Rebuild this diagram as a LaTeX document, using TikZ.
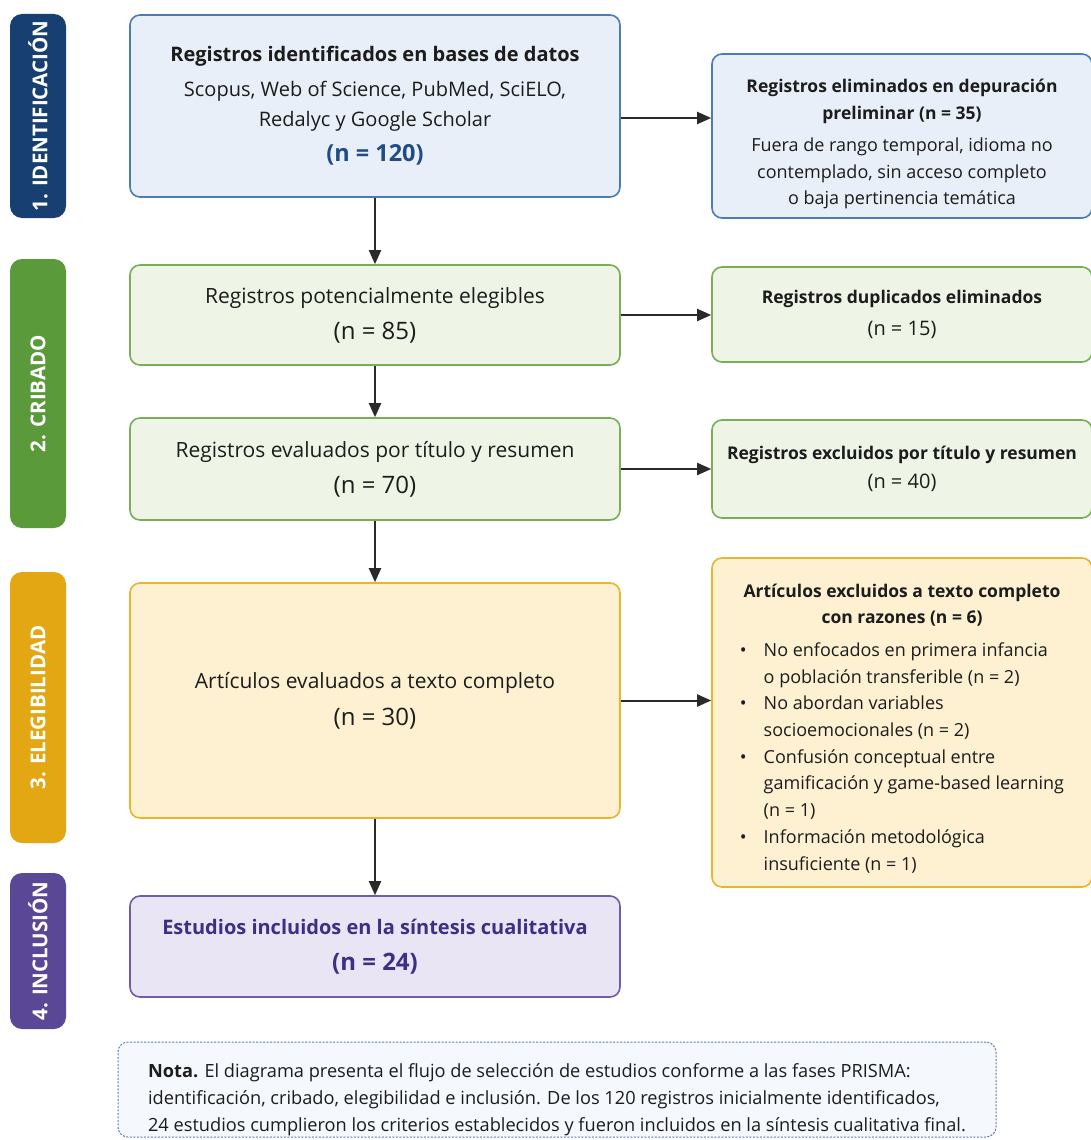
\documentclass[tikz,border=0pt]{standalone}
\usepackage{fontspec}
\setmainfont{Open Sans}
\usetikzlibrary{arrows.meta}
\definecolor{txt}{HTML}{1C1C1C}
\definecolor{arrowc}{HTML}{2A2A2A}
\definecolor{bluefill}{HTML}{E8EFF8}
\definecolor{blueline}{HTML}{4D7BB5}
\definecolor{tabblue}{HTML}{173F72}
\definecolor{nblue}{HTML}{1F4C88}
\definecolor{greenfill}{HTML}{EEF5E6}
\definecolor{greenline}{HTML}{78AE57}
\definecolor{tabgreen}{HTML}{5B9A3A}
\definecolor{goldfill}{HTML}{FDF1D2}
\definecolor{goldline}{HTML}{EAB42C}
\definecolor{tabgold}{HTML}{E2A712}
\definecolor{purplefill}{HTML}{E9E5F4}
\definecolor{purpleline}{HTML}{6E5EA8}
\definecolor{tabpurple}{HTML}{5A4897}
\definecolor{ptext}{HTML}{3E2F85}
\definecolor{notefill}{HTML}{F5F8FC}
\definecolor{noteline}{HTML}{5A7BB0}
\newcommand{\nline}[1]{{\fontsize{24}{36}\selectfont #1}}
\newcommand{\topstrut}[1]{\rule{0pt}{#1}}
\begin{document}
\begin{tikzpicture}[x=1pt,y=-1pt,
  box/.style={draw, rounded corners=10pt, line width=1.6pt, inner sep=0pt, align=center, text=txt},
  bluebox/.style={box, draw=blueline, fill=bluefill},
  greenbox/.style={box, draw=greenline, fill=greenfill},
  goldbox/.style={box, draw=goldline, fill=goldfill},
  purplebox/.style={box, draw=purpleline, fill=purplefill},
  mainbox/.style={minimum width=490pt},
  sidebox/.style={minimum width=380pt},
  maintext/.style={font=\fontsize{21}{36}\selectfont},
  sidetext/.style={font=\fontsize{18}{26.7}\selectfont},
  sidehead/.style={font=\fontsize{17.5}{26.7}\selectfont},
  tab/.style={rounded corners=12pt, minimum height=56pt, inner sep=0pt, text=white, rotate=90,
    font=\fontsize{20.5}{22}\selectfont\bfseries},
  notebox/.style={draw=noteline, fill=notefill, line width=1pt, dash pattern=on 2pt off 1.5pt,
    rounded corners=10pt, inner sep=0pt, align=left, text=txt, font=\fontsize{18.2}{27}\selectfont},
  arr/.style={-{Triangle[length=14pt,width=12pt]}, line width=2pt, draw=arrowc}]

\fill[white] (0,0) rectangle (1090,1140);
\useasboundingbox (0,0) rectangle (1090,1140);

% phase tabs
\node[tab, fill=tabblue, minimum width=204pt] (t1) at (38,116) {1. IDENTIFICACIÓN};
\node[tab, fill=tabgreen, minimum width=269pt] (t2) at (38,393.5) {2. CRIBADO};
\node[tab, fill=tabgold, minimum width=271pt] (t3) at (38,707.5) {3. ELEGIBILIDAD};
\node[tab, fill=tabpurple, minimum width=156pt] (t4) at (38,951) {4. INCLUSIÓN};

% main column
\node[bluebox, mainbox, minimum height=182pt, font=\fontsize{20}{30}\selectfont] (b1) at (375,106)
  {\textbf{Registros identificados en bases de datos}\\[5pt]
   Scopus, Web of Science, PubMed, SciELO,\\
   Redalyc y Google Scholar\\[5pt]
   {\fontsize{23.5}{30}\selectfont\bfseries\color{nblue}(n = 120)}};

\node[greenbox, mainbox, maintext, minimum height=100pt] (b2) at (375,315)
  {Registros potencialmente elegibles\\ \nline{(n = 85)}};

\node[greenbox, mainbox, maintext, minimum height=102pt] (b3) at (375,469)
  {Registros evaluados por título y resumen\\ \nline{(n = 70)}};

\node[goldbox, mainbox, maintext, minimum height=235pt] (b4) at (375,700.5)
  {Artículos evaluados a texto completo\\[1pt] \nline{(n = 30)}};

\node[purplebox, mainbox, minimum height=101pt, text=ptext, font=\fontsize{20}{36}\selectfont\bfseries] (b5) at (375,946.5)
  {Estudios incluidos en la síntesis cualitativa\\ \nline{(n = 24)}};

% side column
\node[bluebox, sidebox, sidetext, minimum height=164pt] (r1) at (902,136)
  {{\fontsize{17.5}{26.7}\selectfont\bfseries\topstrut{30pt}Registros eliminados en depuración}\\
   {\fontsize{17.5}{26.7}\selectfont\bfseries preliminar (n = 35)}\\[5pt]
   Fuera de rango temporal, idioma no\\
   contemplado, sin acceso completo\\
   o baja pertinencia temática};

\node[greenbox, sidebox, sidetext, minimum height=95pt] (r2) at (902,314.5)
  {{\fontsize{17.5}{26.7}\selectfont\bfseries Registros duplicados eliminados}\\[5pt]
   {\fontsize{20}{26.7}\selectfont (n = 15)}};

\node[greenbox, sidebox, sidetext, minimum height=98pt] (r3) at (902,469)
  {{\fontsize{17.5}{26.7}\selectfont\bfseries Registros excluidos por título y resumen}\\[3pt]
   {\fontsize{20}{26.7}\selectfont (n = 40)}};

\node[goldbox, sidebox, sidetext, minimum height=329pt] (r4) at (902,722.5)
  {{\fontsize{17.5}{26.7}\selectfont\bfseries\topstrut{30pt}Artículos excluidos a texto completo}\\
   {\fontsize{17.5}{26.7}\selectfont\bfseries con razones (n = 6)}\\[6pt]
   \begin{tabular}[t]{@{}l@{\hspace{17pt}}l@{}}
   • & No enfocados en primera infancia\\
     & o población transferible (n = 2)\\
   • & No abordan variables\\
     & socioemocionales (n = 2)\\
   • & Confusión conceptual entre\\
     & gamificación y game-based learning\\
     & (n = 1)\\
   • & Información metodológica\\
     & insuficiente (n = 1)
   \end{tabular}};

% note
\node[notebox, minimum width=878pt, minimum height=95pt] (note) at (557,1089.5)
  {\topstrut{34pt}\textbf{Nota.} El diagrama presenta el flujo de selección de estudios conforme a las fases PRISMA:\\
   identificación, cribado, elegibilidad e inclusión. De los 120 registros inicialmente identificados,\\
   24 estudios cumplieron los criterios establecidos y fueron incluidos en la síntesis cualitativa final.};

% connectors
\coordinate (y1) at (0,118);
\draw[arr] (b1.south) -- (b2.north);
\draw[arr] (b2.south) -- (b3.north);
\draw[arr] (b3.south) -- (b4.north);
\draw[arr] (b4.south) -- (b5.north);
\draw[arr] (b1.east |- y1) -- (r1.west |- y1);
\draw[arr] (b2.east) -- (b2.east -| r2.west);
\draw[arr] (b3.east) -- (b3.east -| r3.west);
\draw[arr] (b4.east) -- (b4.east -| r4.west);
\end{tikzpicture}
\end{document}
